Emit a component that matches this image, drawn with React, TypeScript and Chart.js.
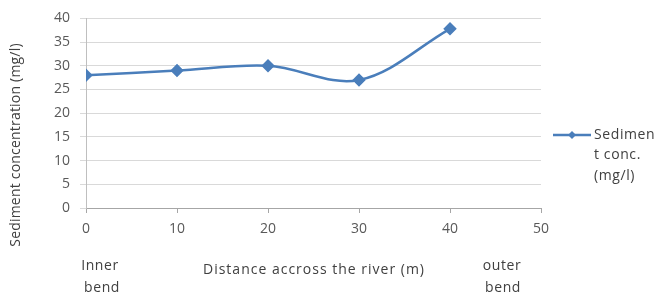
import React, { useEffect, useRef } from "react";
import { Chart, registerables } from "chart.js";

Chart.register(...registerables);

const distances = [0, 10, 20, 30, 40];
const sediment = [28, 29, 30, 27, 37.8];
const seriesLabel = "Sediment conc. (mg/l)";
const legendLines = ["Sedimen", "t conc.", "(mg/l)"];
const yTitle = "Sediment concentration (mg/l)";
const xTitle = "Distance accross the river (m)";
const leftNote = ["Inner", "bend"];
const rightNote = ["outer", "bend"];

const FONT = "'Open Sans', sans-serif";
const BLUE = "#4a7ebb";

export default function App() {
  const ref = useRef<HTMLCanvasElement | null>(null);

  useEffect(() => {
    document.body.style.margin = "0";
    const canvas = ref.current!;
    const textPlugin = {
      id: "texts",
      afterDraw(chart: any) {
        const ctx = chart.ctx as any;
        const area = chart.chartArea;
        ctx.save();
        ctx.fillStyle = "#404040";
        ctx.font = `14px ${FONT}`;
        ctx.textAlign = "center";
        ctx.textBaseline = "middle";
        // y title
        ctx.save();
        ctx.letterSpacing = "0.2px";
        ctx.translate(16, 145);
        ctx.rotate(-Math.PI / 2);
        ctx.fillText(yTitle, 0, 0);
        ctx.restore();
        // x title
        ctx.letterSpacing = "1px";
        ctx.fillText(xTitle, 314, 270);
        ctx.letterSpacing = "0.6px";
        // notes
        ctx.fillText(leftNote[0], 100, 266);
        ctx.fillText(leftNote[1], 102, 288);
        ctx.fillText(rightNote[0], 502, 266);
        ctx.fillText(rightNote[1], 503, 288);
        // legend
        const ly = 135;
        const lx0 = area.right + 12;
        const lx1 = lx0 + 38;
        ctx.strokeStyle = BLUE;
        ctx.lineWidth = 2.5;
        ctx.beginPath();
        ctx.moveTo(lx0, ly);
        ctx.lineTo(lx1, ly);
        ctx.stroke();
        ctx.fillStyle = BLUE;
        ctx.beginPath();
        const cx = (lx0 + lx1) / 2;
        const r = 4;
        ctx.moveTo(cx, ly - r);
        ctx.lineTo(cx + r, ly);
        ctx.lineTo(cx, ly + r);
        ctx.lineTo(cx - r, ly);
        ctx.closePath();
        ctx.fill();
        ctx.fillStyle = "#404040";
        ctx.textAlign = "left";
        legendLines.forEach((t, i) => ctx.fillText(t, lx1 + 3, ly + i * 20.5));
        ctx.restore();
      },
    };

    const chart = new Chart(canvas, {
      type: "line",
      data: {
        datasets: [
          {
            label: seriesLabel,
            data: distances.map((d, i) => ({ x: d, y: sediment[i] })),
            borderColor: BLUE,
            backgroundColor: BLUE,
            borderWidth: 2.5,
            tension: 0.35,
            pointStyle: "rectRot",
            pointRadius: 5,
            pointBackgroundColor: BLUE,
            pointBorderColor: BLUE,
            fill: false,
          },
        ],
      },
      options: {
        responsive: false,
        animation: false,
        layout: { padding: { left: 0, right: 115, top: 16, bottom: 0 } },
        plugins: { legend: { display: false }, tooltip: { enabled: false } },
        scales: {
          x: {
            type: "linear",
            min: 0,
            max: 50,
            ticks: {
              stepSize: 10,
              color: "#595959",
              font: { family: FONT, size: 14 },
              padding: 8,
              maxRotation: 0,
            },
            grid: {
              drawOnChartArea: false,
              drawTicks: true,
              tickLength: 5,
              color: "#a6a6a6",
            },
            border: { display: true, color: "#a6a6a6", width: 1 },
            afterFit(scale: any) {
              scale.height = 92;
            },
          },
          y: {
            min: 0,
            max: 40,
            ticks: {
              stepSize: 5,
              color: "#595959",
              font: { family: FONT, size: 14 },
              padding: 10,
            },
            grid: {
              color: "#d9d9d9",
              tickLength: 6,
            },
            border: { display: true, color: "#bfbfbf", width: 1 },
            afterFit(scale: any) {
              scale.width = 86;
            },
          },
        },
      },
      plugins: [textPlugin],
    });
    return () => chart.destroy();
  }, []);

  return (
    <div style={{ position: "absolute", left: 0, top: 0, width: 656, height: 300, background: "#fff" }}>
      <canvas ref={ref} width={656} height={300} />
    </div>
  );
}
